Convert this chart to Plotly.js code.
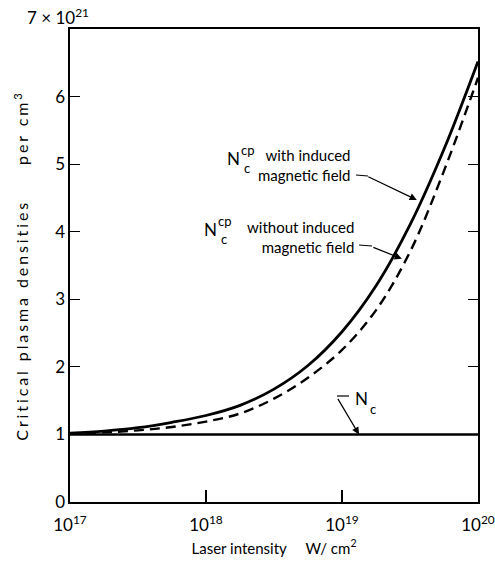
<!DOCTYPE html>
<html>
<head>
<meta charset="utf-8">
<script src="https://cdn.plot.ly/plotly-3.0.1.min.js"></script>
<style>
html,body{margin:0;padding:0;background:#fff;}
#chart{width:495px;height:563px;}
#chart .ytitle{letter-spacing:2.9px;}
</style>
</head>
<body>
<div id="chart"></div>
<script>
// Laser intensity (W/cm^2)
const intensity = [1e17, 1.78e17, 3.16e17, 5.62e17, 1e18, 1.78e18, 3.16e18, 5.62e18, 1e19, 1.78e19, 3.16e19, 5.62e19, 1e20];
// Critical plasma density N_c^cp with induced magnetic field (x 10^21 per cm^3)
const withField = [1.02, 1.05, 1.10, 1.18, 1.28, 1.43, 1.67, 2.02, 2.52, 3.20, 4.10, 5.22, 6.52];
// N_c^cp without induced magnetic field
const withoutField = [1.01, 1.03, 1.06, 1.11, 1.19, 1.31, 1.53, 1.84, 2.25, 2.84, 3.70, 4.90, 6.28];
// N_c
const ncIntensity = [1e17, 1e20];
const ncValues = [1, 1];

const xTickVals = [1e17, 1e18, 1e19, 1e20];
const xTickText = ['10<sup>17</sup>', '10<sup>18</sup>', '10<sup>19</sup>', '10<sup>20</sup>'];
const yTickVals = [0, 1, 2, 3, 4, 5, 6];
const yTickText = ['0', '1', '2', '3', '4', '5', '6'];

const FONT = 'Lato, "Open Sans", sans-serif';

const traces = [
  {x: intensity, y: withField, mode: 'lines', line: {color: '#000', width: 2.8, shape: 'spline', smoothing: 1}},
  {x: intensity, y: withoutField, mode: 'lines', line: {color: '#000', width: 2.4, dash: '10px,6px', shape: 'spline', smoothing: 1}},
  {x: ncIntensity, y: ncValues, mode: 'lines', line: {color: '#000', width: 2.6}}
];

// helpers converting plot-pixel positions to paper coords
const L = 70, T = 29, W = 408, H = 473;
const px = v => (v - L) / W;
const py = v => (T + H - v) / H;

const txt = (text, x, y, xanchor, size, extra) => Object.assign({
  text: text, xref: 'paper', yref: 'paper', x: px(x), y: py(y),
  xanchor: xanchor, yanchor: 'middle', showarrow: false,
  font: {family: FONT, size: size, color: '#000'}
}, extra || {});

const arrow = (xLog, yVal, ax, ay) => ({
  text: '', x: xLog, y: yVal, xref: 'x', yref: 'y', ax: ax, ay: ay,
  showarrow: true, arrowhead: 2, arrowsize: 1.2, arrowwidth: 1.2, arrowcolor: '#000'
});

const annotations = [
  txt('7 &times; 10<sup>21</sup>', 91, 17, 'right', 17),
  // label 1
  txt('N', 233, 158, 'center', 17),
  txt('cp', 239, 150, 'left', 13),
  txt('c', 242, 168, 'left', 13),
  txt('with induced<br>magnetic field', 353, 165, 'right', 15, {align: 'right'}),
  arrow(19.55, 4.47, -50, -24),
  // label 2
  txt('N', 210, 229, 'center', 17),
  txt('cp', 216, 221, 'left', 13),
  txt('c', 219, 239, 'left', 13),
  txt('without induced<br>magnetic field', 356, 237, 'right', 15, {align: 'right'}),
  arrow(19.44, 3.6, -30, -12),
  // N_c
  txt('N', 361, 398, 'center', 17),
  txt('c', 368, 409, 'left', 13),
  arrow(19.125, 1.0, -22, -37)
];

const shapes = [
  {type: 'line', xref: 'paper', yref: 'paper', x0: px(356), y0: py(175), x1: px(368), y1: py(176), line: {color: '#000', width: 1.2}},
  {type: 'line', xref: 'paper', yref: 'paper', x0: px(359), y0: py(245), x1: px(372), y1: py(246), line: {color: '#000', width: 1.2}},
  {type: 'line', xref: 'paper', yref: 'paper', x0: px(337), y0: py(396), x1: px(349), y1: py(396), line: {color: '#000', width: 1.2}}
];

const layout = {
  width: 495, height: 563,
  margin: {l: 70, r: 17, t: 29, b: 61},
  paper_bgcolor: '#fff', plot_bgcolor: '#fff',
  showlegend: false,
  font: {family: FONT, color: '#000'},
  xaxis: {
    type: 'log', range: [17, 20],
    tickvals: xTickVals, ticktext: xTickText,
    ticks: 'inside', ticklen: 12, tickwidth: 1.2, tickcolor: '#000',
    ticklabelstandoff: 7,
    showline: true, linecolor: '#000', linewidth: 1.6, mirror: true,
    showgrid: false, zeroline: false,
    tickfont: {family: FONT, size: 17, color: '#000'},
    title: {text: 'Laser intensity &nbsp;&nbsp;&nbsp;&nbsp;W/ cm<sup>2</sup>', font: {family: FONT, size: 15, color: '#000'}, standoff: 9}
  },
  yaxis: {
    range: [0, 7],
    tickvals: yTickVals, ticktext: yTickText,
    ticks: 'inside', ticklen: 10, tickwidth: 1.2, tickcolor: '#000',
    ticklabelstandoff: 0,
    showline: true, linecolor: '#000', linewidth: 1.6, mirror: 'ticks',
    showgrid: false, zeroline: false,
    tickfont: {family: FONT, size: 17, color: '#000'},
    title: {text: 'Critical plasma densities &nbsp;&nbsp;&nbsp;&nbsp;per cm<sup>3</sup>', font: {family: FONT, size: 16, color: '#000'}, standoff: 22}
  },
  annotations: annotations,
  shapes: shapes
};

Plotly.newPlot('chart', traces, layout, {staticPlot: true, displayModeBar: false});
</script>
</body>
</html>
